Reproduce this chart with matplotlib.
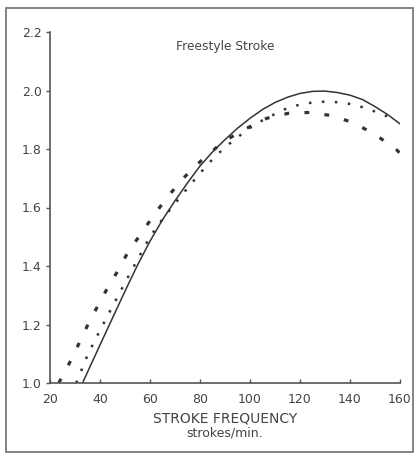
import matplotlib
matplotlib.use("Agg")
import matplotlib.pyplot as plt
from matplotlib.patches import Rectangle

# stroke frequency (strokes/min) vs. velocity, freestyle
solid_x = [33, 40, 45, 50, 55, 60, 65, 70, 75, 80, 85, 90, 95, 100, 105, 110,
           115, 120, 125, 130, 135, 140, 145, 150, 155, 160]
solid_y = [1.0, 1.13, 1.222, 1.314, 1.403, 1.485, 1.558, 1.623, 1.684, 1.742,
           1.79, 1.832, 1.871, 1.905, 1.935, 1.959, 1.977, 1.99, 1.997, 1.998,
           1.993, 1.984, 1.969, 1.945, 1.918, 1.886]

dotted_x = [30.5, 35, 40, 45, 50, 55, 60, 65, 70, 75, 80, 85, 90, 95, 100, 105,
            110, 115, 120, 125, 130, 135, 140, 145, 150, 155, 158]
dotted_y = [1.0, 1.095, 1.18, 1.262, 1.343, 1.422, 1.50, 1.56, 1.614, 1.666,
            1.717, 1.765, 1.806, 1.84, 1.872, 1.898, 1.92, 1.94, 1.952, 1.959,
            1.962, 1.96, 1.954, 1.943, 1.928, 1.911, 1.90]

dashed_x = [23.5, 27.7, 31.3, 34.9, 38.7, 42.7, 47.1, 51.3, 56.3, 61.3, 67.1,
            73.3, 80.7, 89.3, 98.0, 106.7, 115.3, 124.0, 132.7, 141.3, 150.0,
            158.7, 160]
dashed_y = [1.0, 1.067, 1.13, 1.195, 1.257, 1.32, 1.383, 1.449, 1.509, 1.571,
            1.637, 1.70, 1.762, 1.825, 1.868, 1.905, 1.922, 1.925, 1.914, 1.89,
            1.85, 1.797, 1.785]

x_ticks = [20, 40, 60, 80, 100, 120, 140, 160]
y_ticks = [1.0, 1.2, 1.4, 1.6, 1.8, 2.0, 2.2]

txt = "#444444"
plt.rcParams["font.family"] = ["DejaVu Sans"]

fig = plt.figure(figsize=(4.18, 4.55), dpi=100)
ax = fig.add_axes([50 / 418, 1 - 383 / 455, 350 / 418, 351 / 455])

ax.plot(solid_x, solid_y, color="#333333", lw=1.1)
ax.plot(dotted_x, dotted_y, color="#333333", lw=1.8, linestyle=(0, (1, 4.2)))
ax.plot(dashed_x, dashed_y, color="#333333", lw=2.3, linestyle=(0, (1.5, 4.8)))

ax.set_xlim(20, 160)
ax.set_ylim(1.0, 2.2)
ax.set_xticks(x_ticks)
ax.set_yticks(y_ticks)
ax.set_yticklabels([f"{v:.1f}" for v in y_ticks])

for s in ["top", "right"]:
    ax.spines[s].set_visible(False)
for s in ["left", "bottom"]:
    ax.spines[s].set_color("#555555")
    ax.spines[s].set_linewidth(1.2)

ax.tick_params(axis="y", direction="out", length=3, width=1, colors="#555555",
               labelcolor=txt, labelsize=9, pad=3)
ax.tick_params(axis="x", direction="in", length=3, width=1, colors="#555555",
               labelcolor=txt, labelsize=9, pad=7)

ax.text(90, 2.15, "Freestyle Stroke", ha="center", va="center",
        fontsize=8.8, color=txt)

fig.text(225 / 418, 1 - 418 / 455, "STROKE FREQUENCY", ha="center",
         va="center", fontsize=10, color=txt)
fig.text(225 / 418, 1 - 433 / 455, "strokes/min.", ha="center",
         va="center", fontsize=9, color=txt)

# scanned page border
fig.patches.append(Rectangle((6 / 418, 1 - 452 / 455), 407 / 418, 444 / 455,
                             transform=fig.transFigure, fill=False,
                             edgecolor="#7a7a7a", lw=1.3))

fig.savefig("out.png", dpi=100)
